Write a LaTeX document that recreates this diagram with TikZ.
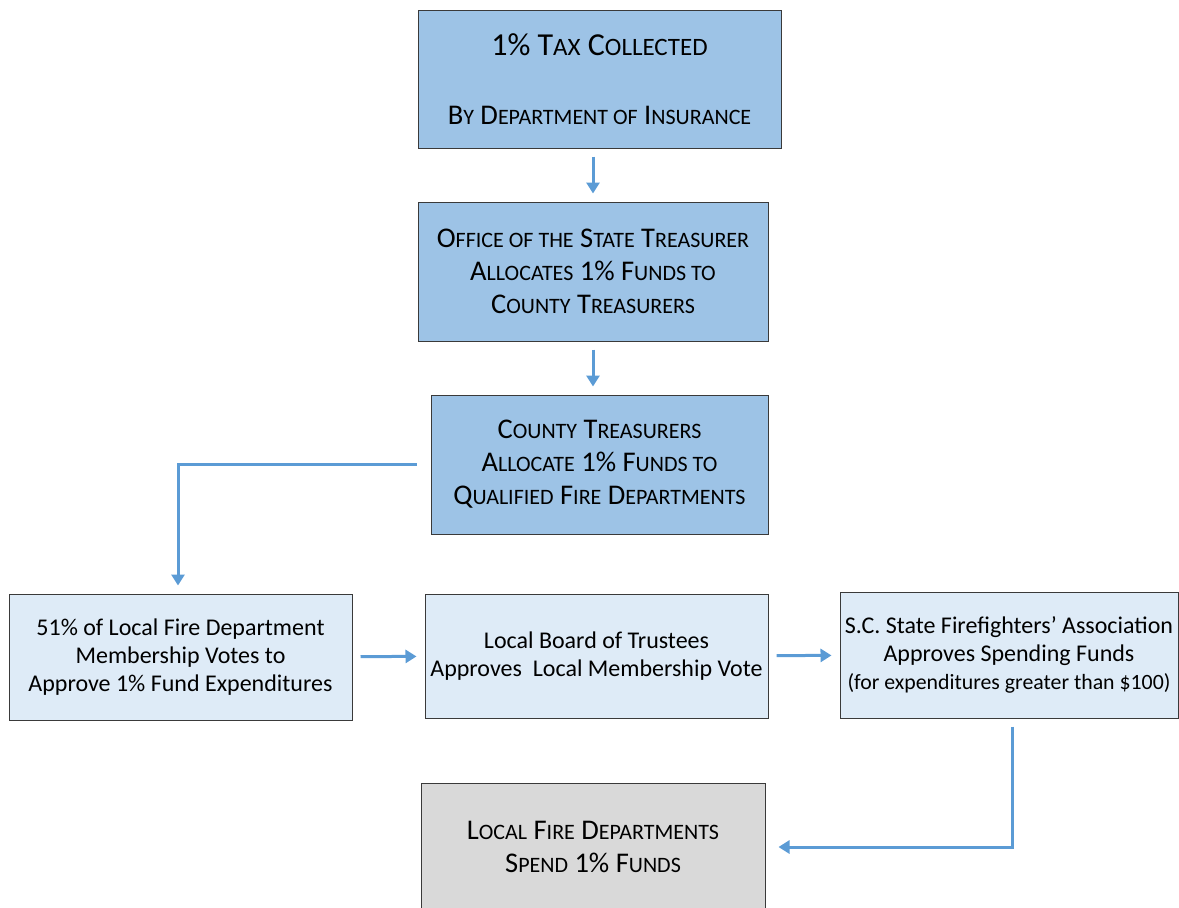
\documentclass[tikz,border=0pt]{standalone}
\usepackage{fontspec}
\setmainfont{Carlito}
\usetikzlibrary{arrows.meta}
\definecolor{darkblue}{HTML}{9DC3E6}
\definecolor{lightblue}{HTML}{DEEBF7}
\definecolor{lightgray}{HTML}{D9D9D9}
\definecolor{flowblue}{HTML}{5B9BD5}
\definecolor{edgegray}{HTML}{3A3A3A}
\newcommand\lsc[1]{{\fontsize{22}{33}\selectfont\MakeUppercase{#1}}}
\newcommand\tsc[1]{{\fontsize{25}{33}\selectfont\MakeUppercase{#1}}}
\tikzset{
  stepbox/.style={draw=edgegray, line width=1pt, align=center, inner sep=0pt,
    font=\fontsize{24}{28}\selectfont},
  capsbox/.style={stepbox, font=\fontsize{28.5}{33}\selectfont},
  flow/.style={draw=flowblue, line width=3pt,
    -{Triangle[width=13pt,length=11pt]}, shorten <=8pt, shorten >=8pt}
}
\begin{document}
\begin{tikzpicture}[x=1pt,y=-1pt]
\useasboundingbox (0,0) rectangle (1179,908);

\node[capsbox, fill=darkblue, minimum width=363pt, minimum height=138pt] (tax) at (599.5,79)
  {{\fontsize{32}{33}\selectfont 1\% T\tsc{ax} C\tsc{ollected}}\\[36pt]B\lsc{y} D\lsc{epartment of} I\lsc{nsurance}};
\node[capsbox, fill=darkblue, minimum width=350pt, minimum height=139pt] (state) at (593,271.5)
  {O\lsc{ffice of the} S\lsc{tate} T\lsc{reasurer}\\A\lsc{llocates} 1\% F\lsc{unds to}\\C\lsc{ounty} T\lsc{reasurers}};
\node[capsbox, fill=darkblue, minimum width=337pt, minimum height=139pt] (county) at (599.5,464.5)
  {C\lsc{ounty} T\lsc{reasurers}\\A\lsc{llocate} 1\% F\lsc{unds to}\\Q\lsc{ualified} F\lsc{ire} D\lsc{epartments}};

\node[stepbox, fill=lightblue, minimum width=343pt, minimum height=126pt] (votes) at (180.5,657)
  {51\% of Local Fire Department\\Membership Votes to\\Approve 1\% Fund Expenditures};
\node[stepbox, fill=lightblue, minimum width=343pt, minimum height=124pt] (board) at (596.5,656)
  {Local Board of Trustees\\Approves\ \ Local Membership Vote};
\node[stepbox, fill=lightblue, minimum width=338pt, minimum height=126pt] (assoc) at (1009,655)
  {S.C. State Firefighters’ Association\\Approves Spending Funds\\{\fontsize{21.8}{26}\selectfont (for expenditures greater than \$100)}};

\node[capsbox, fill=lightgray, minimum width=344pt, minimum height=128pt] (spend) at (593,847)
  {L\lsc{ocal} F\lsc{ire} D\lsc{epartments}\\S\lsc{pend} 1\% F\lsc{unds}};

\draw[flow] (state.north |- tax.south) -- (state.north);
\draw[flow] (state.south) -- (state.south |- county.north);
\draw[flow, shorten <=14pt] (county.west) -| ([xshift=-2.5pt]votes.north);
\draw[flow] (votes) -- (board);
\draw[flow] (board) -- (assoc);
\draw[flow, shorten >=13pt] ([xshift=3pt]assoc.south) |- (spend.east);
\end{tikzpicture}
\end{document}
